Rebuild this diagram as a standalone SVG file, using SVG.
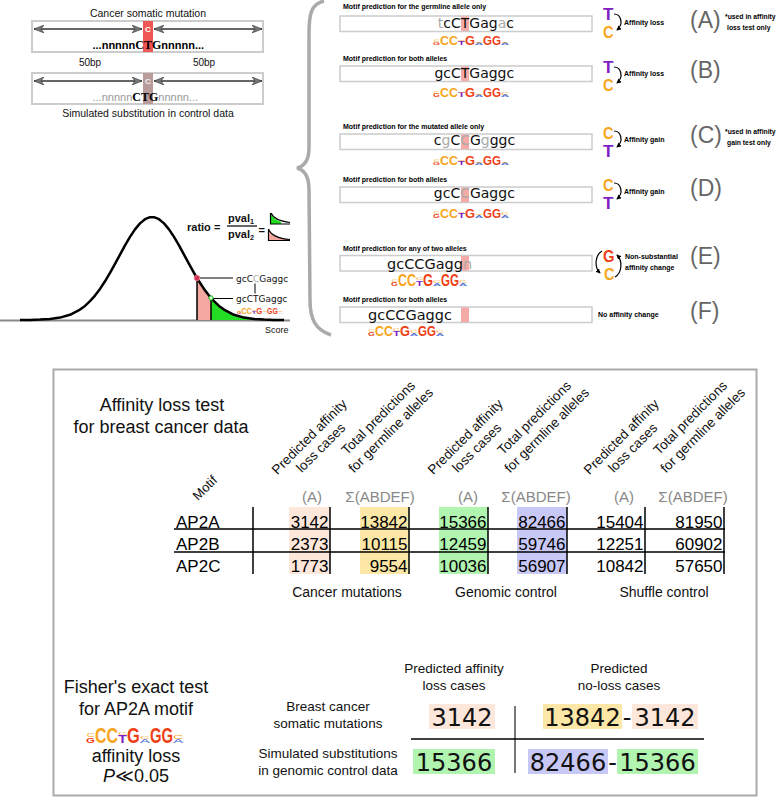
<svg xmlns="http://www.w3.org/2000/svg" width="778" height="797" viewBox="0 0 778 797">
<defs>
<style>
text{font-family:"Liberation Sans",Arial,sans-serif;fill:#111}
.dv{font-family:"DejaVu Sans",Verdana,sans-serif}
.serif{font-family:"Liberation Serif","Times New Roman",serif}
.lbl{font-size:7px;font-weight:bold;fill:#000}
.note{font-size:6.8px;font-weight:bold;fill:#000}
.seq{font-size:14px;fill:#111}
.seq2{font-size:14.5px;fill:#111}
.gr{fill:#aaa}
.big{font-size:23px;fill:#666}
.hdr{font-size:13.5px;fill:#111}
.num{font-size:17px;fill:#000}
.col{font-size:15px;fill:#888}
.box{fill:#fff;stroke:#ccc;stroke-width:1.5}
.box2{fill:#fff;stroke:#ccc;stroke-width:2}
.hl{fill:#f4aaa6}
.oC{fill:#f7a51c}
.rG{fill:#ee3f16}
.pT{fill:#7f1fc4}
.bA{fill:#4d6fd2}
.lg{font-weight:bold}
.ln{stroke:#000;stroke-width:1.5;fill:none}
.thin{stroke:#000;stroke-width:1;fill:none}
.pink{fill:#fde7db}
.yel{fill:#fce7a6}
.grn{fill:#b0f4b0}
.blu{fill:#c8c8f6}
.fn{font-size:24px;fill:#111}
.mid{text-anchor:middle}
.end{text-anchor:end}
.ico{font-size:17px;font-weight:bold}
.arc{stroke:#000;stroke-width:1.2;fill:none;marker-end:url(#ah)}
.dbl{stroke:#333;stroke-width:1.6;marker-start:url(#ch);marker-end:url(#ch)}
</style>
<marker id="ch" viewBox="0 0 10 8" markerWidth="10" markerHeight="8" refX="10" refY="4" orient="auto-start-reverse" markerUnits="userSpaceOnUse">
<path d="M0,0 L10,4 L0,8 L3,4 Z" fill="#777" stroke="#333" stroke-width="0.6"/>
</marker>
<marker id="ah" viewBox="0 0 6 6" markerWidth="5" markerHeight="5" refX="5" refY="3" orient="auto" markerUnits="userSpaceOnUse">
<path d="M0,0 L6,3 L0,6 Z" fill="#000"/>
</marker>
<g id="logo">
<text x="0" y="0" font-size="5" textLength="7" lengthAdjust="spacingAndGlyphs" class="rG lg">G</text>
<text x="0.5" y="-3.6" font-size="3.5" textLength="6" lengthAdjust="spacingAndGlyphs" class="oC">C</text>
<text x="7" y="0" font-size="14" textLength="9" lengthAdjust="spacingAndGlyphs" class="oC lg">C</text>
<text x="16" y="0" font-size="14" textLength="9" lengthAdjust="spacingAndGlyphs" class="oC lg">C</text>
<text x="25" y="0" font-size="7" textLength="7" lengthAdjust="spacingAndGlyphs" class="pT lg">T</text>
<text x="25" y="-5" font-size="2.5" textLength="7" lengthAdjust="spacingAndGlyphs" class="oC">C</text>
<text x="32" y="0" font-size="14" textLength="10" lengthAdjust="spacingAndGlyphs" class="rG lg">G</text>
<text x="42" y="0" font-size="3.5" textLength="8" lengthAdjust="spacingAndGlyphs" class="bA">A</text>
<text x="42" y="-2.6" font-size="2.5" textLength="8" lengthAdjust="spacingAndGlyphs" class="oC">C</text>
<text x="50" y="0" font-size="14" textLength="9" lengthAdjust="spacingAndGlyphs" class="rG lg">G</text>
<text x="59" y="0" font-size="14" textLength="9" lengthAdjust="spacingAndGlyphs" class="rG lg">G</text>
<text x="68" y="0" font-size="3.5" textLength="8" lengthAdjust="spacingAndGlyphs" class="bA">A</text>
<text x="68" y="-2.6" font-size="3" textLength="8" lengthAdjust="spacingAndGlyphs" class="oC">C</text>
</g>
</defs>
<rect x="0" y="0" width="778" height="797" fill="#fff"/>

<!-- Top-left: mutation windows -->
<g id="mutation-panel">
<text x="148" y="16.5" class="mid" font-size="10.5">Cancer somatic mutation</text>
<rect class="box2" x="32" y="21" width="231" height="31"/>
<rect x="143" y="21" width="10" height="31" fill="#ee5753"/>
<text x="148" y="32" class="mid" font-size="8" font-weight="bold" style="fill:#fff">C</text>
<text x="92.5" y="48.5" font-size="11" font-weight="bold" style="fill:#000">...nnnnn<tspan class="serif" font-size="12">CTG</tspan>nnnnn...</text>
<text x="90" y="66" class="mid" font-size="10">50bp</text>
<text x="204" y="66" class="mid" font-size="10">50bp</text>
<rect class="box2" x="32" y="73" width="231" height="31"/>
<rect x="143" y="73" width="10" height="31" fill="#b99c9a"/>
<text x="148" y="84" class="mid" font-size="8" font-weight="bold" style="fill:#eee">C</text>
<text x="92.5" y="100.5" font-size="11" style="fill:#999">...nnnnn<tspan class="serif" font-size="12" font-weight="bold" style="fill:#000">CTG</tspan>nnnnn...</text>
<text x="148" y="117" class="mid" font-size="10.5">Simulated substitution in control data</text>
</g>

<!-- Bell curve -->
<g id="score-distribution">
<line x1="0" y1="320.5" x2="290" y2="320.5" stroke="#888" stroke-width="2"/>
<path d="M197,320 L197,278 L199,281.3 L204,288.9 L209,295.6 L211,298 L211,320 Z" fill="#f4a8a0"/>
<path d="M211,320 L211,298 L214,301.2 L219,305.9 L224,309.6 L234,314.8 L244,317.6 L254,319 L262,320 Z" fill="#22dd22"/>
<path d="M20,320 L30,319.9 L40,319.6 L50,319 L60,317.6 L70,314.8 L80,309.6 L85,305.9 L90,301.2 L95,295.6 L100,288.9 L105,281.3 L110,272.8 L115,263.8 L120,254.6 L125,245.4 L130,236.9 L135,229.4 L140,223.4 L145,219.2 L150,217.2 L154,217.2 L159,219.2 L164,223.4 L169,229.4 L174,236.9 L179,245.4 L184,254.6 L189,263.8 L194,272.8 L199,281.3 L204,288.9 L209,295.6 L214,301.2 L219,305.9 L224,309.6 L234,314.8 L244,317.6 L254,319 L264,319.6 L274,319.9 L284,320" fill="none" stroke="#000" stroke-width="2.5" stroke-linejoin="round"/>
<line x1="197" y1="278" x2="197" y2="320" stroke="#000" stroke-width="1.5"/>
<line x1="211" y1="298" x2="211" y2="320" stroke="#000" stroke-width="1.5"/>
<circle cx="197" cy="278" r="2.8" fill="#d0305a" stroke="#f08080" stroke-width="0.8"/>
<circle cx="211" cy="298" r="2.2" fill="#ccffcc" stroke="#11bb11" stroke-width="1"/>
<text x="236" y="281.5" class="dv" font-size="9">gcC<tspan class="gr">C</tspan>Gaggc</text>
<text x="236" y="302" class="dv" font-size="9">gcCTGaggc</text>
<use href="#logo" transform="translate(237,314) scale(0.6,0.6)"/>
<text x="265" y="333" font-size="9">Score</text>
<text x="187" y="231" font-size="11" font-weight="bold">ratio =</text>
<text x="228" y="221.5" font-size="11" font-weight="bold">pval<tspan font-size="7" dy="2">1</tspan></text>
<line x1="227" y1="226" x2="257" y2="226" stroke="#000" stroke-width="1.2"/>
<text x="228" y="238" font-size="11" font-weight="bold">pval<tspan font-size="7" dy="2">2</tspan></text>
<text x="258.5" y="234" font-size="11" font-weight="bold">=</text>
<path d="M270.5,213.5 Q274,220 281,221.8 L281,224 L270.5,224 Z" fill="#22dd22"/>
<path d="M270.5,213 L270.5,224 L290,224 M271,213 Q274,220.5 290,222.5" stroke="#000" stroke-width="1.2" fill="none"/>
<path d="M268.5,229 Q272,238 290,239.5 L290,240.5 L268.5,240.5 Z" fill="#f4a8a0"/>
<path d="M268.5,229 L268.5,240.5 L290,240.5 M268.5,229 Q272,238 290,239.5" stroke="#000" stroke-width="1.2" fill="none"/>
</g>

<!-- Brace -->
<path id="brace" d="M324,1 C311,4 309,14 309,34 L309,148 C309,160 305,166 297,168 C305,170 309,178 309,190 L310,300 C310,320 316,330 331,335" fill="none" stroke="#aaa" stroke-width="3.5"/>

<!-- Panel A -->
<g id="panel-A">
<text x="343" y="9" class="lbl">Motif prediction for the germline allele only</text>
<rect class="box" x="340" y="16" width="252" height="15.5"/>
<rect class="hl" x="461" y="16.5" width="8" height="14.5"/>
<text x="437.8" y="27.5" class="dv seq"><tspan class="gr">t</tspan>cCTGag<tspan class="gr">a</tspan>c</text>
<use href="#logo" transform="translate(433,45) scale(1,0.85)"/>
<text class="ico"><tspan x="603" y="20" class="pT" textLength="10.5" lengthAdjust="spacingAndGlyphs">T</tspan><tspan x="603" y="38" class="oC" textLength="10.5" lengthAdjust="spacingAndGlyphs">C</tspan></text>
<text x="624" y="25" class="lbl">Affinity loss</text>
<text x="690" y="28" class="big">(A)</text>
<text x="725" y="19" class="note">*used in affinity</text>
<text x="727" y="29.5" class="note">loss test only</text>
</g>

<!-- Panel B -->
<g id="panel-B">
<text x="343" y="61" class="lbl">Motif prediction for both alleles</text>
<rect class="box" x="340" y="66" width="252" height="15.5"/>
<rect class="hl" x="461" y="66.5" width="8" height="14.5"/>
<text x="434.4" y="78" class="dv seq">gcCTGaggc</text>
<use href="#logo" transform="translate(433,97) scale(1,0.9)"/>
<text class="ico"><tspan x="603" y="73" class="pT" textLength="10.5" lengthAdjust="spacingAndGlyphs">T</tspan><tspan x="603" y="91" class="oC" textLength="10.5" lengthAdjust="spacingAndGlyphs">C</tspan></text>
<text x="624" y="76" class="lbl">Affinity loss</text>
<text x="690" y="78" class="big">(B)</text>
</g>

<!-- Panel C -->
<g id="panel-C">
<text x="343" y="128.5" class="lbl">Motif prediction for the mutated allele only</text>
<rect class="box" x="340" y="134" width="252" height="15.5"/>
<rect class="hl" x="461" y="134.5" width="8" height="14.5"/>
<text x="433.8" y="144.5" class="dv seq">c<tspan class="gr">g</tspan>C<tspan class="gr">C</tspan>G<tspan class="gr">g</tspan>ggc</text>
<use href="#logo" transform="translate(433,165) scale(1,0.85)"/>
<text class="ico"><tspan x="603" y="138.5" class="oC" textLength="10.5" lengthAdjust="spacingAndGlyphs">C</tspan><tspan x="603" y="156.5" class="pT" textLength="10.5" lengthAdjust="spacingAndGlyphs">T</tspan></text>
<text x="624" y="142" class="lbl">Affinity gain</text>
<text x="690" y="143" class="big">(C)</text>
<text x="725" y="134" class="note">*used in affinity</text>
<text x="727" y="144.5" class="note">gain test only</text>
</g>

<!-- Panel D -->
<g id="panel-D">
<text x="343" y="181.5" class="lbl">Motif prediction for both alleles</text>
<rect class="box" x="340" y="187" width="252" height="15.5"/>
<rect class="hl" x="461" y="187.5" width="8" height="14.5"/>
<text x="433.8" y="197.5" class="dv seq">gcC<tspan class="gr">C</tspan>Gaggc</text>
<use href="#logo" transform="translate(433,217.5) scale(1,0.9)"/>
<text class="ico"><tspan x="603" y="190.5" class="oC" textLength="10.5" lengthAdjust="spacingAndGlyphs">C</tspan><tspan x="603" y="208.5" class="pT" textLength="10.5" lengthAdjust="spacingAndGlyphs">T</tspan></text>
<text x="624" y="194" class="lbl">Affinity gain</text>
<text x="690" y="196" class="big">(D)</text>
</g>

<!-- Panel E -->
<g id="panel-E">
<text x="343" y="251" class="lbl">Motif prediction for any of two alleles</text>
<rect class="box" x="340" y="255.5" width="252" height="15.5"/>
<rect class="hl" x="461" y="256" width="8" height="14.5"/>
<text x="387" y="268.5" class="dv seq2">gcCCGagg<tspan class="gr">n</tspan></text>
<use href="#logo" transform="translate(391,286) scale(1,1.15)"/>
<text class="ico"><tspan x="603" y="261.5" class="rG" textLength="11.5" lengthAdjust="spacingAndGlyphs">G</tspan><tspan x="604" y="279.5" class="oC" textLength="10.5" lengthAdjust="spacingAndGlyphs">C</tspan></text>
<text x="625" y="259" class="lbl">Non-substantial</text>
<text x="625" y="270" class="lbl">affinity change</text>
<text x="690" y="264" class="big">(E)</text>
</g>

<!-- Panel F -->
<g id="panel-F">
<text x="343" y="302" class="lbl">Motif prediction for both alleles</text>
<rect class="box" x="340" y="307" width="252" height="15.5"/>
<rect class="hl" x="461" y="307.5" width="8" height="14.5"/>
<text x="368" y="319.5" class="dv seq2">gcCCGaggc</text>
<use href="#logo" transform="translate(368,336) scale(1,1.1)"/>
<text x="598" y="317" class="lbl">No affinity change</text>
<text x="690" y="319" class="big">(F)</text>
</g>

<!-- Connectors -->
<g id="connectors">
<line class="dbl" x1="34" y1="29" x2="142" y2="29"/>
<line class="dbl" x1="154" y1="29" x2="262" y2="29"/>
<line class="dbl" x1="34" y1="81" x2="142" y2="81"/>
<line class="dbl" x1="154" y1="81" x2="262" y2="81"/>
<line class="thin" x1="200" y1="278" x2="233" y2="278"/>
<line class="thin" x1="213.5" y1="298.5" x2="233" y2="298.5"/>
<line class="thin" x1="255" y1="283.5" x2="255" y2="293.5"/>
<path class="arc" d="M614,14 C621,14 624,24 617,30"/>
<path class="arc" d="M614,67 C621,67 624,77 617,83"/>
<path class="arc" d="M614,131 C621,131 624,141 617,147"/>
<path class="arc" d="M614,183 C621,183 624,193 617,199"/>
<path class="arc" d="M602,251 C595,255 594,267 600,273"/>
<path class="arc" d="M615,277 C622,273 623,261 617,255"/>
</g>

<!-- Lower panel -->
<rect id="lower-frame" x="53.5" y="369.5" width="703" height="426" fill="none" stroke="#aaa" stroke-width="2"/>

<g id="loss-table">
<text x="162" y="411" class="mid" font-size="18">Affinity loss test</text>
<text x="161" y="433" class="mid" font-size="18">for breast cancer data</text>
<text x="208" y="491" class="mid" font-size="13" transform="rotate(-45 208 491)">Motif</text>
<text x="312.5" y="440" class="hdr mid" transform="rotate(-45 312.5 440)">Predicted affinity</text>
<text x="324" y="451" class="hdr mid" transform="rotate(-45 324 451)">loss cases</text>
<text x="381.5" y="421" class="hdr mid" transform="rotate(-45 381.5 421)">Total predictions</text>
<text x="394" y="433.5" class="hdr mid" transform="rotate(-45 394 433.5)">for germline alleles</text>
<text x="468.5" y="440" class="hdr mid" transform="rotate(-45 468.5 440)">Predicted affinity</text>
<text x="480" y="451" class="hdr mid" transform="rotate(-45 480 451)">loss cases</text>
<text x="537.5" y="421" class="hdr mid" transform="rotate(-45 537.5 421)">Total predictions</text>
<text x="550" y="433.5" class="hdr mid" transform="rotate(-45 550 433.5)">for germline alleles</text>
<text x="624.5" y="440" class="hdr mid" transform="rotate(-45 624.5 440)">Predicted affinity</text>
<text x="636" y="451" class="hdr mid" transform="rotate(-45 636 451)">loss cases</text>
<text x="693.5" y="421" class="hdr mid" transform="rotate(-45 693.5 421)">Total predictions</text>
<text x="706" y="433.5" class="hdr mid" transform="rotate(-45 706 433.5)">for germline alleles</text>
<text x="312" y="502" class="col mid">(A)</text>
<text x="380" y="502" class="col mid">Σ(ABDEF)</text>
<text x="468" y="502" class="col mid">(A)</text>
<text x="536" y="502" class="col mid">Σ(ABDEF)</text>
<text x="624" y="502" class="col mid">(A)</text>
<text x="693" y="502" class="col mid">Σ(ABDEF)</text>
<rect class="pink" x="289" y="507" width="41" height="67"/>
<rect class="yel" x="360" y="507" width="49" height="67"/>
<rect class="grn" x="439" y="507" width="49" height="67"/>
<rect class="blu" x="517" y="507" width="50" height="67"/>
<path class="ln" d="M174,529 H725 M174,552 H725 M253,507 V574 M330,507 V574 M409,507 V574 M488,507 V574 M567,507 V574 M645,507 V574 M724,507 V574"/>
<g class="num">
<text x="176" y="527.5" class="num">AP2A</text>
<text x="176" y="549.5" class="num">AP2B</text>
<text x="176" y="571.5" class="num">AP2C</text>
<text x="328.5" y="527.5" class="num end">3142</text>
<text x="407.5" y="527.5" class="num end">13842</text>
<text x="486.5" y="527.5" class="num end">15366</text>
<text x="565.5" y="527.5" class="num end">82466</text>
<text x="643.5" y="527.5" class="num end">15404</text>
<text x="722.5" y="527.5" class="num end">81950</text>
<text x="328.5" y="549.5" class="num end">2373</text>
<text x="407.5" y="549.5" class="num end">10115</text>
<text x="486.5" y="549.5" class="num end">12459</text>
<text x="565.5" y="549.5" class="num end">59746</text>
<text x="643.5" y="549.5" class="num end">12251</text>
<text x="722.5" y="549.5" class="num end">60902</text>
<text x="328.5" y="571.5" class="num end">1773</text>
<text x="407.5" y="571.5" class="num end">9554</text>
<text x="486.5" y="571.5" class="num end">10036</text>
<text x="565.5" y="571.5" class="num end">56907</text>
<text x="643.5" y="571.5" class="num end">10842</text>
<text x="722.5" y="571.5" class="num end">57650</text>
</g>
<text x="347" y="597" class="mid" font-size="14">Cancer mutations</text>
<text x="506" y="597" class="mid" font-size="14">Genomic control</text>
<text x="664" y="597" class="mid" font-size="14">Shuffle control</text>
</g>

<g id="fisher-test">
<text x="136" y="693" class="mid" font-size="18">Fisher's exact test</text>
<text x="136" y="715" class="mid" font-size="18">for AP2A motif</text>
<use href="#logo" transform="translate(86,743) scale(1.28,1.6)"/>
<text x="136" y="762" class="mid" font-size="18">affinity loss</text>
<text x="136" y="782" class="mid" font-size="18"><tspan font-style="italic">P</tspan>≪0.05</text>
<text x="328" y="711" class="mid" font-size="13.5">Breast cancer</text>
<text x="328" y="728" class="mid" font-size="13.5">somatic mutations</text>
<text x="328" y="758" class="mid" font-size="13.5">Simulated substitutions</text>
<text x="328" y="775" class="mid" font-size="13.5">in genomic control data</text>
<text x="454" y="673" class="mid" font-size="13.5">Predicted affinity</text>
<text x="454" y="690" class="mid" font-size="13.5">loss cases</text>
<text x="619" y="673" class="mid" font-size="13.5">Predicted</text>
<text x="619" y="690" class="mid" font-size="13.5">no-loss cases</text>
<rect class="pink" x="429" y="704" width="66" height="25"/>
<rect class="yel" x="543" y="704" width="79" height="25"/>
<rect class="pink" x="632" y="704" width="66" height="25"/>
<rect class="grn" x="413" y="749" width="82" height="25"/>
<rect class="blu" x="528" y="749" width="80" height="25"/>
<rect class="grn" x="617" y="749" width="81" height="25"/>
<line x1="515" y1="706" x2="515" y2="773" stroke="#777" stroke-width="2"/>
<line x1="411" y1="739" x2="704" y2="739" stroke="#000" stroke-width="1.5"/>
<text x="462" y="726" class="dv fn mid">3142</text>
<text x="582.5" y="726" class="dv fn mid">13842</text>
<text x="627" y="726" class="dv fn mid">-</text>
<text x="665" y="726" class="dv fn mid">3142</text>
<text x="454" y="771" class="dv fn mid">15366</text>
<text x="568" y="771" class="dv fn mid">82466</text>
<text x="612.5" y="771" class="dv fn mid">-</text>
<text x="657.5" y="771" class="dv fn mid">15366</text>
</g>
</svg>
